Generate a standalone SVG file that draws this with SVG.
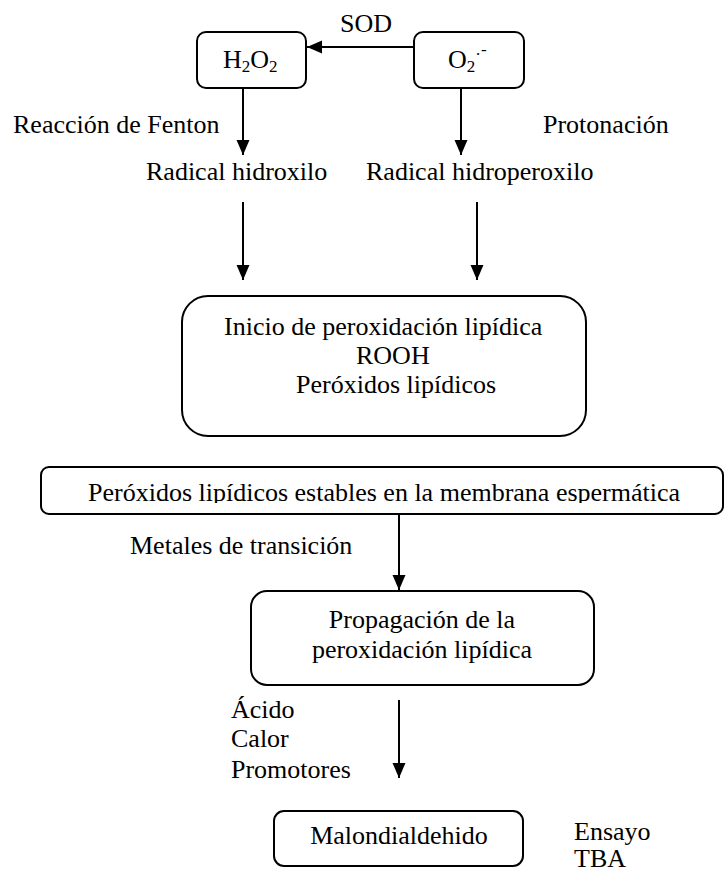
<svg xmlns="http://www.w3.org/2000/svg" width="725" height="874" viewBox="0 0 725 874">
<style>
  text { font-family: "Liberation Serif", "Times New Roman", serif; font-size: 26px; fill: #000; }
  .box { fill: #fff; stroke: #000; stroke-width: 2; }
  .conn { stroke: #000; stroke-width: 2; fill: none; marker-end: url(#arrow); }
  .sub { font-size: 17px; }
</style>
<defs>
  <marker id="arrow" markerUnits="userSpaceOnUse" markerWidth="16" markerHeight="14" refX="15" refY="6.5" orient="auto">
    <path d="M0,0 L15,6.5 L0,13 z" fill="#000"/>
  </marker>
  <clipPath id="clipStable">
    <rect x="41" y="467" width="682" height="36"/>
  </clipPath>
</defs>
<rect width="725" height="874" fill="#fff"/>

<g id="connectors">
  <line class="conn" x1="414" y1="47" x2="307" y2="47"/>
  <line class="conn" x1="243" y1="88" x2="243" y2="155"/>
  <line class="conn" x1="461" y1="88" x2="461" y2="155"/>
  <line class="conn" x1="243" y1="202" x2="243" y2="280"/>
  <line class="conn" x1="477" y1="202" x2="477" y2="280"/>
  <line class="conn" x1="399" y1="514" x2="399" y2="590"/>
  <line class="conn" x1="399" y1="700" x2="399" y2="778"/>
</g>

<g id="labels">
  <text x="366" y="32" text-anchor="middle">SOD</text>
  <text x="13" y="133">Reacción de Fenton</text>
  <text x="543" y="133">Protonación</text>
  <text x="146" y="180">Radical hidroxilo</text>
  <text x="366" y="180">Radical hidroperoxilo</text>
  <text x="130" y="554">Metales de transición</text>
  <text x="231" y="718">Ácido</text>
  <text x="231" y="747">Calor</text>
  <text x="231" y="778">Promotores</text>
  <text x="574" y="840">Ensayo</text>
  <text x="574" y="867">TBA</text>
</g>

<g id="node-h2o2">
  <rect class="box" x="197" y="32" width="109" height="56" rx="9"/>
  <text x="223" y="68">H<tspan class="sub" y="72">2</tspan><tspan y="68">O</tspan><tspan class="sub" y="72">2</tspan></text>
</g>

<g id="node-o2">
  <rect class="box" x="414" y="32" width="110" height="56" rx="9"/>
  <text x="448" y="68">O<tspan class="sub" y="72">2</tspan><tspan class="sub" y="60">·</tspan><tspan class="sub" y="55">-</tspan></text>
</g>

<g id="node-inicio">
  <rect class="box" x="182" y="296" width="404" height="140" rx="26"/>
  <text x="224" y="335">Inicio de peroxidación lipídica</text>
  <text x="356" y="364">ROOH</text>
  <text x="296" y="393">Peróxidos lipídicos</text>
</g>

<g id="node-estables">
  <rect class="box" x="41" y="467" width="682" height="47" rx="8"/>
  <text x="88" y="501" clip-path="url(#clipStable)">Peróxidos lipídicos estables en la membrana espermática</text>
</g>

<g id="node-propagacion">
  <rect class="box" x="251" y="591" width="343" height="94" rx="16"/>
  <text x="422" y="628" text-anchor="middle">Propagación de la</text>
  <text x="422" y="658" text-anchor="middle">peroxidación lipídica</text>
</g>

<g id="node-malondialdehido">
  <rect class="box" x="274" y="811" width="249" height="55" rx="10"/>
  <text x="399" y="844" text-anchor="middle">Malondialdehido</text>
</g>
</svg>
